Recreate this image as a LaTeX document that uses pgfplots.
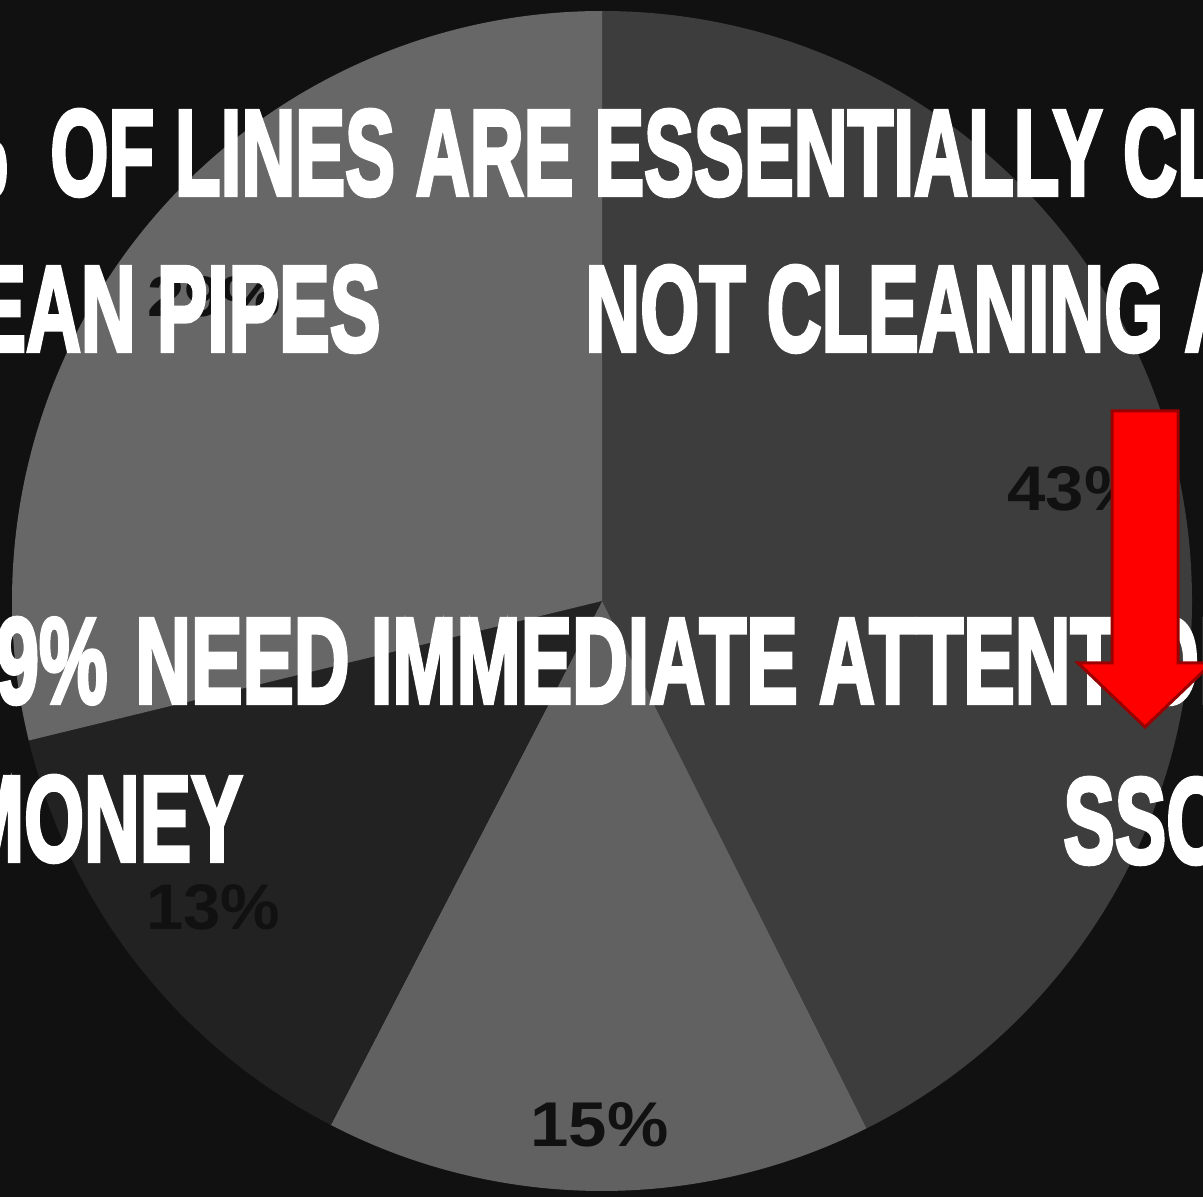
\documentclass[border=0pt]{standalone}
\usepackage{pgfplots}
\pgfplotsset{compat=1.18}
\usepackage{fontspec}
\usepackage{graphicx}
\newfontfamily\impact[FakeBold=3.5]{Liberation Sans Bold}
\newfontfamily\lab{Liberation Sans Bold}
\definecolor{bg}{HTML}{111111}
\definecolor{cA}{HTML}{3D3D3D}
\definecolor{cB}{HTML}{616161}
\definecolor{cC}{HTML}{222222}
\definecolor{cD}{HTML}{676767}
\definecolor{arrowred}{HTML}{FF0000}
\definecolor{arrowdark}{HTML}{9B0000}
\newsavebox\tbox
\newcommand\fitt[3]{%
  \sbox\tbox{\impact #1}\pgfmathsetmacro\sxx{#2*0.5/\the\wd\tbox}%
  \sbox\tbox{\impact E}\pgfmathsetmacro\syy{42/\the\ht\tbox}%
  \scalebox{\sxx}[\syy]{\impact #3}}
\begin{document}
\begin{tikzpicture}
\fill[bg] (0,0) rectangle (601.5pt,598.5pt);
\begin{scope}
\clip (0,0) rectangle (601.5pt,598.5pt);
\begin{axis}[at={(0,0)}, anchor=south west, x=0.5pt, y=0.5pt,
  xmin=0, xmax=1203, ymin=0, ymax=1197, y dir=reverse, hide axis]
\gdef\s{90}
\foreach \v/\c in {42.6/cA,15.0/cB,13.6/cC,28.8/cD}{%
  \pgfmathsetmacro\e{\s-3.6*\v}%
  \edef\tmp{\noexpand\fill[\c] (axis cs:602,601) -- ++(\s:295pt) arc[start angle=\s,end angle=\e,radius=295pt] -- cycle;}%
  \tmp
  \xdef\s{\e}%
}
\end{axis}
\begin{scope}[x=0.5pt,y=-0.5pt,yshift=598.5pt]
  % pie labels
  \tikzset{pl/.style={anchor=base west,inner sep=0pt,text={bg}}}
  \node[pl] at (1007,511) {\resizebox{69pt}{22pt}{\lab 43\%}};
  \node[pl] at (530,1147) {\resizebox{69pt}{22pt}{\lab 15\%}};
  \node[pl] at (146,930) {\resizebox{67pt}{22.5pt}{\lab 13\%}};
  \node[pl] at (147,317) {\resizebox{67pt}{20pt}{\lab 29\%}};
  % overlay text
  \tikzset{tw/.style={anchor=base west,inner sep=0pt,text=white},
           te/.style={anchor=base east,inner sep=0pt,text=white}}
  % line 1
  \node[tw] at (50,195) {\fitt{OF LINES ARE ESSENTIALLY}{1052}{OF LINES ARE ESSENTIALLY CLEAN}};
  \node[te] at (8,195) {\fitt{OF LINES ARE ESSENTIALLY}{1052}{29\%}};
  % line 2
  \node[tw] at (585,351) {\fitt{NOT CLEANING}{578}{NOT CLEANING ANY}};
  \node[te] at (381,351) {\fitt{NOT CLEANING}{578}{CLEAN PIPES}};
  % line 3
  \node[tw] at (135,703) {\fitt{NEED IMMEDIATE ATTEN}{935}{NEED IMMEDIATE ATTENTION}};
  \node[te] at (108,703) {\fitt{NEED IMMEDIATE ATTEN}{935}{29\%}};
  % line 4
  \node[te] at (243,861) {\fitt{NEED IMMEDIATE ATTEN}{935}{MONEY}};
  \node[tw] at (1063,863) {\fitt{NEED IMMEDIATE ATTEN}{935}{SSOS}};
  % arrow
  \filldraw[fill=arrowred,draw=arrowdark,line width=1.5pt,line join=miter]
    (1112,411) -- (1178,411) -- (1178,663) -- (1212,663) -- (1145,727)
    -- (1078,663) -- (1112,663) -- cycle;
\end{scope}
\end{scope}
\pgfresetboundingbox
\useasboundingbox (0,0) rectangle (601.5pt,598.5pt);
\end{tikzpicture}
\end{document}
